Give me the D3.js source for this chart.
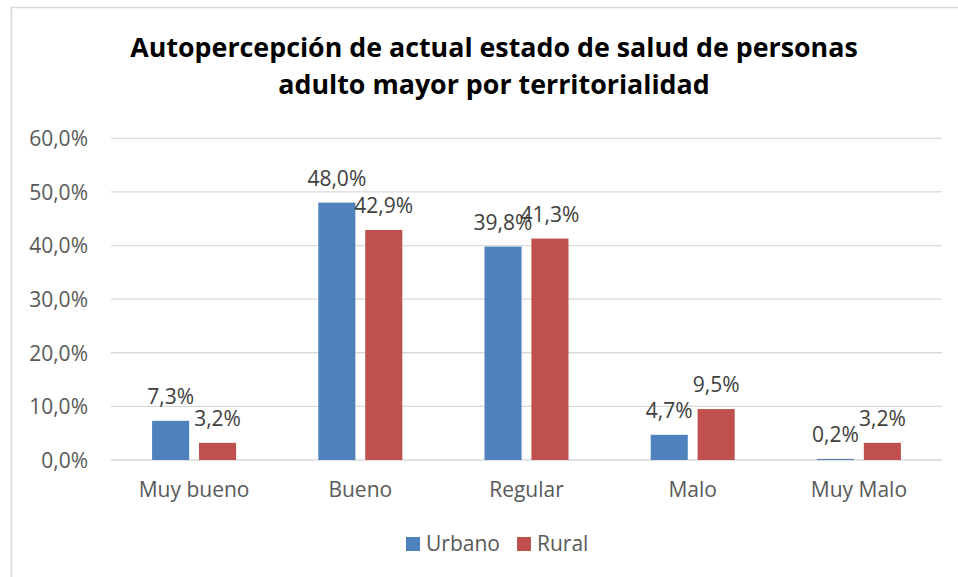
<!DOCTYPE html>
<html>
<head>
<meta charset="utf-8">
<script src="https://cdn.jsdelivr.net/npm/d3@7"></script>
<style>
  html, body { margin: 0; padding: 0; background: #fff; }
  svg { display: block; }
</style>
</head>
<body>
<svg id="chart" width="958" height="577"></svg>
<script>
const categories = ["Muy bueno", "Bueno", "Regular", "Malo", "Muy Malo"];
const seriesNames = ["Urbano", "Rural"];
const urbano = [0.073, 0.480, 0.398, 0.047, 0.002];
const rural  = [0.032, 0.429, 0.413, 0.095, 0.032];
const yTicks = [0, 0.1, 0.2, 0.3, 0.4, 0.5, 0.6];
const colors = ["#4F81BD", "#C0504D"];
const titleLines = ["Autopercepción de actual estado de salud de personas", "adulto mayor por territorialidad"];

const seriesValues = [urbano, rural];
const svg = d3.select("#chart");
const font = "'Open Sans', 'DejaVu Sans', sans-serif";
const fmt = v => d3.format(".1f")(v * 100).replace(".", ",") + "%";

// chart border
svg.append("rect").attr("x", 11.5).attr("y", 7.5).attr("width", 980).attr("height", 600)
  .attr("fill", "#fff").attr("stroke", "#D9D9D9").attr("stroke-width", 1.5);

// title
svg.append("text").attr("x", 494).attr("text-anchor", "middle")
  .attr("font-family", font).attr("font-weight", "bold").attr("font-size", 26.8).attr("fill", "#000")
  .selectAll("tspan").data(titleLines).join("tspan")
  .attr("x", 494).attr("y", (d, i) => 57 + i * 37).text(d => d);

const x0 = d3.scaleBand().domain(categories).range([111, 942]).padding(0);
const x1 = d3.scaleBand().domain(seriesNames).range([-42, 42]).paddingInner(0.21);
const y = d3.scaleLinear().domain([0, 0.6]).range([460, 138.3]);

// gridlines
svg.append("g").selectAll("line").data(yTicks).join("line")
  .attr("x1", 111).attr("x2", 942)
  .attr("y1", d => y(d)).attr("y2", d => y(d))
  .attr("stroke", "#D9D9D9").attr("stroke-width", 1.3);

// y axis labels
const yAxis = d3.axisLeft(y).tickValues(yTicks).tickFormat(fmt).tickSize(0).tickPadding(0);
const gy = svg.append("g").attr("transform", "translate(88,0)").call(yAxis);
gy.select(".domain").remove();
gy.selectAll("text").attr("font-family", font).attr("font-size", 21).attr("fill", "#595959").attr("dy", "0.35em");

// x axis labels
const xAxis = d3.axisBottom(x0).tickSize(0).tickPadding(0);
const gx = svg.append("g").attr("transform", "translate(0,481)").call(xAxis);
gx.select(".domain").remove();
gx.selectAll("text").attr("font-family", font).attr("font-size", 21).attr("fill", "#595959").attr("dy", "0.75em");

// bars
seriesNames.forEach((s, si) => {
  const g = svg.append("g");
  g.selectAll("rect").data(categories).join("rect")
    .attr("x", c => x0(c) + x0.bandwidth() / 2 + x1(s))
    .attr("width", x1.bandwidth())
    .attr("y", (c, i) => y(seriesValues[si][i]))
    .attr("height", (c, i) => y(0) - y(seriesValues[si][i]))
    .attr("fill", colors[si]);
  g.selectAll("text").data(categories).join("text")
    .attr("x", c => x0(c) + x0.bandwidth() / 2 + x1(s) + x1.bandwidth() / 2)
    .attr("y", (c, i) => y(seriesValues[si][i]) - 17)
    .attr("text-anchor", "middle")
    .attr("font-family", font).attr("font-size", 21).attr("fill", "#404040")
    .text((c, i) => fmt(seriesValues[si][i]));
});

// legend
const legendX = [406, 517];
const lg = svg.append("g").selectAll("g").data(seriesNames).join("g")
  .attr("transform", (d, i) => `translate(${legendX[i]},537)`);
lg.append("rect").attr("width", 14).attr("height", 14).attr("fill", (d, i) => colors[i]);
lg.append("text").attr("x", 20).attr("y", 14).attr("font-family", font).attr("font-size", 21)
  .attr("fill", "#595959").text(d => d);
</script>
</body>
</html>
